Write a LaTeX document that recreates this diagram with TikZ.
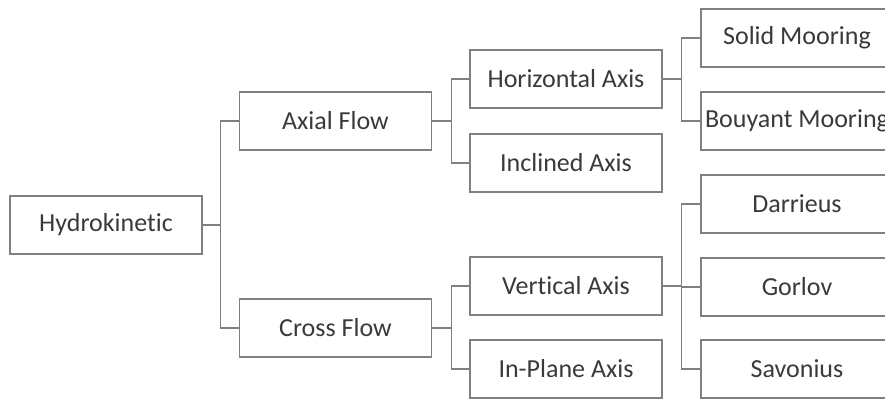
\documentclass[tikz,border=0pt]{standalone}
\usepackage{fontspec}
\setmainfont[Ligatures=NoCommon]{Carlito}
\usetikzlibrary{positioning,calc}
\definecolor{linegray}{HTML}{808080}
\definecolor{textgray}{HTML}{3A3A3A}
\tikzset{
block/.style = {draw=linegray, fill=white, rectangle, align = center, minimum width=144pt, minimum height=43.5pt, inner sep=0pt, text=textgray, font=\fontsize{19.5}{23}\selectfont, line width=0.8pt},
link/.style = {draw=linegray, line width=0.8pt}
}
\begin{document}
\begin{tikzpicture}[x=0.75pt, y=-0.75pt]
    \clip (0,0) rectangle (885,400);
    \node[block] (hydro) at (106,225) {Hydrokinetic};
    \node[block] (axial) at (335.5,121) {Axial Flow};
    \node[block] (cross) at (335.5,328) {Cross Flow};
    \node[block] (horiz) at (566,79) {Horizontal Axis};
    \node[block] (incl) at (566,163) {Inclined Axis};
    \node[block] (vert) at (566,286) {Vertical Axis};
    \node[block] (inplane) at (566,369) {In-Plane Axis};
    \node[block] (solid) at (797,38) {Solid Mooring};
    \node[block] (bouyant) at (797,121) {Bouyant Mooring};
    \node[block] (darrieus) at (797,204) {Darrieus};
    \node[block] (gorlov) at (797,287) {Gorlov};
    \node[block] (savonius) at (797,369) {Savonius};
    \draw[link] (hydro.east) -- ++(18,0) |- (axial.west);
    \draw[link] (hydro.east) -- ++(18,0) |- (cross.west);
    \draw[link] (axial.east) -- ++(19,0) |- (horiz.west);
    \draw[link] (axial.east) -- ++(19,0) |- (incl.west);
    \draw[link] (cross.east) -- ++(19,0) |- (vert.west);
    \draw[link] (cross.east) -- ++(19,0) |- (inplane.west);
    \draw[link] (horiz.east) -- ++(19,0) |- (solid.west);
    \draw[link] (horiz.east) -- ++(19,0) |- (bouyant.west);
    \draw[link] (vert.east) -- ++(19,0) |- (darrieus.west);
    \draw[link] (vert.east) -- ++(19,0) |- (gorlov.west);
    \draw[link] (vert.east) -- ++(19,0) |- (savonius.west);
\end{tikzpicture}
\end{document}
